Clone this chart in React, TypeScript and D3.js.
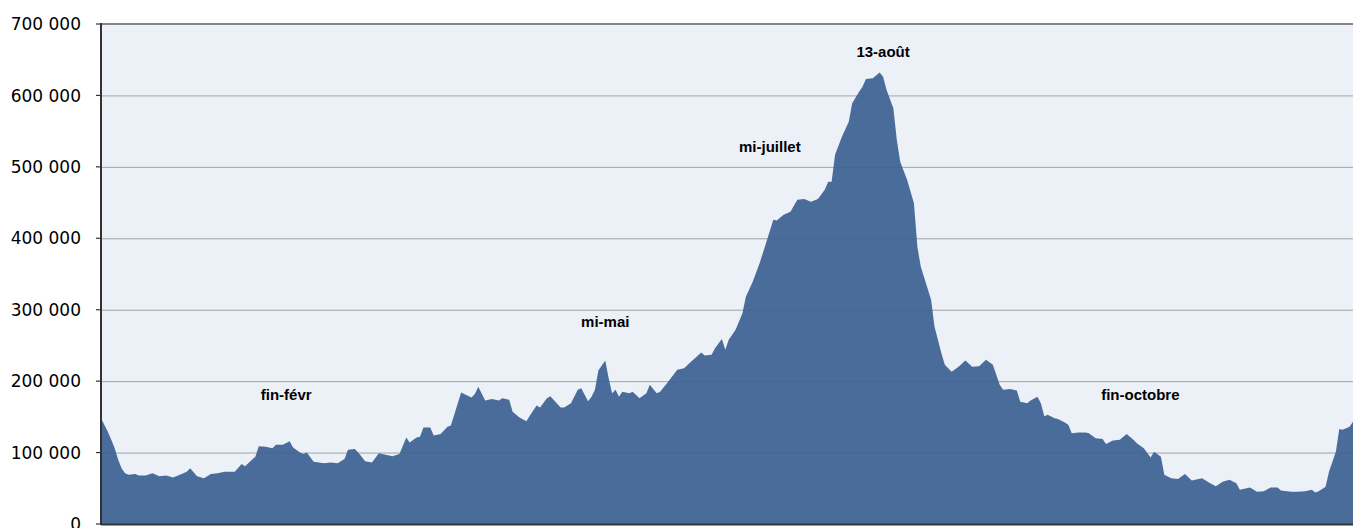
import * as d3 from 'd3'

// day index (0 = start of the year shown) and visitors
const days = [
  0, 2, 3, 4, 5, 6, 7, 8, 10, 11, 13, 15, 17, 19, 21, 23, 25, 26, 28, 30,
  32, 34, 36, 39, 41, 42, 44, 45, 46, 48, 50, 51, 53, 55, 56, 58, 59, 60, 62, 65,
  67, 69, 71, 72, 74, 75, 76, 77, 79, 81, 83, 85, 87, 89, 90, 92, 93, 94, 96, 97,
  99, 101, 102, 105, 108, 109, 110, 112, 114, 116, 117, 119, 120, 122, 124, 126, 127, 128, 130, 131,
  134, 135, 137, 139, 140, 142, 143, 144, 145, 147, 148, 149, 150, 151, 152, 154, 155, 157, 159, 160,
  162, 163, 165, 168, 170, 172, 175, 176, 178, 179, 181, 182, 183, 185, 187, 188, 190, 192, 194, 196,
  197, 199, 201, 203, 205, 207, 209, 211, 212, 213, 214, 216, 218, 219, 221, 222, 223, 225, 227, 228,
  229, 231, 232, 233, 235, 237, 238, 239, 242, 243, 245, 246, 248, 250, 252, 254, 256, 258, 260, 262,
  263, 265, 267, 268, 270, 271, 273, 274, 275, 276, 278, 279, 281, 282, 283, 285, 287, 288, 290, 292,
  293, 295, 297, 299, 301, 302, 304, 306, 307, 309, 310, 312, 314, 316, 318, 320, 321, 323, 325, 327,
  329, 331, 332, 334, 335, 337, 339, 341, 343, 344, 347, 349, 351, 353, 354, 355, 357, 358, 360, 361,
  362, 364, 365,
]

const visitors = [
  148, 129, 118, 106, 90, 78, 71, 69, 70, 68, 68, 71, 67, 68, 65, 69, 73, 78, 67, 64,
  70, 71, 73, 73, 84, 81, 90, 94, 109, 108, 106, 111, 111, 116, 107, 100, 98, 100, 87, 85,
  86, 85, 91, 104, 105, 100, 94, 88, 86, 99, 97, 95, 98, 121, 114, 121, 122, 135, 135, 124,
  126, 136, 138, 184, 177, 182, 192, 173, 175, 173, 176, 174, 157, 149, 144, 159, 166, 163, 176, 179,
  163, 163, 169, 188, 190, 172, 178, 188, 215, 229, 204, 183, 188, 178, 185, 183, 185, 176, 183, 195,
  183, 185, 197, 216, 218, 227, 240, 236, 237, 246, 259, 244, 258, 272, 295, 318, 339, 365, 395, 426,
  425, 433, 437, 454, 455, 451, 455, 468, 479, 479, 517, 542, 563, 589, 605, 612, 623, 624, 632, 626,
  608, 582, 538, 507, 482, 449, 388, 360, 314, 276, 239, 223, 213, 220, 229, 220, 221, 230, 223, 195,
  188, 189, 187, 171, 169, 173, 178, 169, 151, 153, 148, 147, 142, 139, 127, 128, 128, 127, 120, 119,
  112, 117, 118, 126, 118, 113, 106, 93, 101, 94, 69, 64, 63, 70, 61, 63, 64, 58, 53, 59,
  62, 57, 48, 50, 51, 45, 46, 51, 51, 47, 45, 45, 46, 48, 44, 46, 52, 73, 101, 133,
  132, 136, 143,
].map((v) => v * 1000)

const yTicks = [0, 100000, 200000, 300000, 400000, 500000, 600000, 700000]

const noteLabels = ['fin-févr', 'mi-mai', 'mi-juillet', '13-août', 'fin-octobre']
const noteDays = [54, 147, 195, 228, 303]
const noteValues = [174000, 276000, 521000, 654000, 174000]

const width = 1353
const height = 528
const plotLeft = 101
const plotRight = 1353
const plotTop = 24
const plotBottom = 524

const fr = d3.formatLocale({
  decimal: ',',
  thousands: ' ',
  grouping: [3],
  currency: ['', ' €'],
})
const fmt = fr.format(',')

export default function App() {
  const x = d3.scaleLinear().domain([0, 365]).range([plotLeft, plotRight])
  const y = d3.scaleLinear().domain([0, 700000]).range([plotBottom, plotTop])

  const points = days.map((d, i) => ({ day: d, value: visitors[i] }))

  const area = d3
    .area<{ day: number; value: number }>()
    .x((d) => x(d.day))
    .y0(y(0))
    .y1((d) => y(d.value))
    .curve(d3.curveLinear)

  return (
    <svg
      width={width}
      height={height}
      style={{ position: 'absolute', left: 0, top: 0, display: 'block' }}
    >
      <rect x={0} y={0} width={width} height={height} fill="#ffffff" />
      <rect
        x={plotLeft}
        y={plotTop}
        width={plotRight - plotLeft}
        height={plotBottom - plotTop}
        fill="#ecf1f8"
      />

      {/* gridlines */}
      {yTicks.slice(1, -1).map((t) => (
        <line
          key={t}
          x1={plotLeft}
          x2={plotRight}
          y1={y(t) + 0.5}
          y2={y(t) + 0.5}
          stroke="#a3a3a3"
          strokeWidth={1}
        />
      ))}

      <path d={area(points) ?? ''} fill="#3c6193" fillOpacity={0.92} />

      {/* top border */}
      <line x1={plotLeft} x2={plotRight} y1={y(700000)} y2={y(700000)} stroke="#858585" strokeWidth={2} />

      {/* axes */}
      <line x1={plotLeft} x2={plotLeft} y1={plotTop - 1} y2={plotBottom + 1} stroke="#333333" strokeWidth={2} />
      <line x1={plotLeft} x2={plotRight} y1={plotBottom + 0.5} y2={plotBottom + 0.5} stroke="#333333" strokeWidth={2} />

      {yTicks.map((t) => (
        <g key={t}>
          <line x1={plotLeft - 5} x2={plotLeft} y1={y(t)} y2={y(t)} stroke="#333333" strokeWidth={1.2} />
          <text
            x={81}
            y={y(t)}
            dy="0.36em"
            textAnchor="end"
            fontFamily="'DejaVu Sans', sans-serif"
            fontSize={17}
            fill="#000"
          >
            {fmt(t)}
          </text>
        </g>
      ))}

      {noteLabels.map((label, i) => (
        <text
          key={label}
          x={x(noteDays[i])}
          y={y(noteValues[i])}
          textAnchor="middle"
          fontFamily="'Liberation Sans', Arial, sans-serif"
          fontWeight="bold"
          fontSize={15}
          fill="#000"
        >
          {label}
        </text>
      ))}
    </svg>
  )
}
